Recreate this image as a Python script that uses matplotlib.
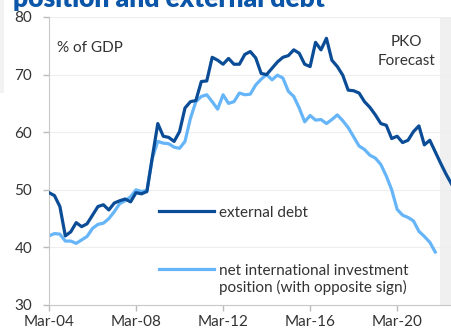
import numpy as np
import pandas as pd
import matplotlib
matplotlib.use('Agg')
import matplotlib.pyplot as plt
from matplotlib.lines import Line2D
from matplotlib.patches import Rectangle

plt.rcParams['font.family'] = ['Lato', 'DejaVu Sans']

# quarterly data, % of GDP, from 2004Q1
quarters = pd.period_range('2004Q1', periods=75, freq='Q')

external_debt = [49.5, 49.0, 47.1, 42.0, 42.7, 44.3, 43.6, 44.1, 45.6, 47.1,
                 47.4, 46.5, 47.7, 48.1, 48.4, 47.9, 49.5, 49.3, 49.7, 55.7,
                 61.5, 59.3, 59.1, 58.4, 60.1, 64.2, 65.3, 65.5, 68.8, 68.9,
                 73.0, 72.5, 71.8, 72.8, 71.8, 71.8, 73.5, 74.0, 72.9, 70.2,
                 70.0, 71.1, 72.2, 73.0, 73.3, 74.3, 73.7, 71.8, 71.4, 75.6,
                 74.3, 76.3, 72.5, 71.4, 69.9, 67.3, 67.2, 66.8, 65.3, 64.3,
                 63.0, 61.5, 61.2, 58.9, 59.3, 58.2, 58.6, 60.1, 61.1, 57.8,
                 58.6, 56.6, 54.6, 52.7, 51.0]

niip = [42.0, 42.4, 42.3, 41.1, 41.1, 40.7, 41.3, 41.9, 43.3, 44.0,
        44.2, 45.0, 46.2, 47.6, 48.1, 48.8, 50.0, 49.7, 49.9, 55.5,
        58.4, 58.1, 58.0, 57.4, 57.2, 58.4, 62.4, 65.3, 66.2, 66.5,
        65.3, 64.0, 66.5, 65.0, 65.3, 66.8, 66.5, 66.6, 68.2, 69.2,
        70.0, 69.1, 69.9, 69.4, 67.1, 66.2, 64.2, 61.8, 62.9, 62.1,
        62.2, 61.5, 62.2, 63.0, 62.0, 60.8, 59.2, 57.6, 57.0, 56.0,
        55.5, 54.4, 52.4, 50.0, 46.6, 45.6, 45.2, 44.6, 42.8, 41.9,
        40.9, 39.2]

forecast_start = pd.Period('2022Q1', freq='Q')

dark = '#0b4c97'
light = '#66b5f8'
grey_txt = '#333333'

x = np.arange(len(quarters))
fc = (forecast_start - quarters[0]).n

fig = plt.figure(figsize=(4.51, 3.31), dpi=100)
# grey strip at the left edge (part of the page behind the chart)
fig.patches.append(Rectangle((0, 1 - 93/331), 4/451, 93/331, transform=fig.transFigure,
                             color='#f2f2f2', lw=0, zorder=0))
ax = fig.add_axes([49/451, 26/331, 1 - 49/451, 288/331])

ax.axvspan(fc - 0.1, 80, color='#f0f0f0', lw=0, zorder=0)
l1, = ax.plot(x, external_debt, color=dark, lw=2.3, zorder=3)
l2, = ax.plot(x[:len(niip)], niip, color=light, lw=2.3, zorder=2)

ax.set_xlim(0, 73.9)
ax.set_ylim(30, 80)
ax.set_yticks([30, 40, 50, 60, 70, 80])
ticks = x[::16]
ax.set_xticks(ticks)
ax.set_xticklabels([quarters[i].end_time.strftime('%b-%y') for i in ticks])
ax.tick_params(labelsize=11, colors='#bbbbbb', labelcolor=grey_txt, length=4, width=1)
ax.tick_params(axis='y', pad=8)
for s in ['top', 'right']:
    ax.spines[s].set_visible(False)
for s in ['left', 'bottom']:
    ax.spines[s].set_color('#c8c8c8')
ax.grid(axis='y', color='#eeeeee', lw=0.8)
ax.set_axisbelow(True)

ax.text(0.02, 0.88, '% of GDP', transform=ax.transAxes, fontsize=11, color=grey_txt)
ax.text(0.89, 0.835, 'PKO\nForecast', transform=ax.transAxes, fontsize=11,
        color=grey_txt, ha='center', multialignment='center', linespacing=1.45)

leg1 = ax.legend([l1], ['external debt'], loc='center left', bbox_to_anchor=(0.24, 0.32),
                 frameon=False, fontsize=11, handlelength=3.6, handletextpad=0.3,
                 labelcolor=grey_txt)
ax.add_artist(leg1)
blank = Line2D([], [], color='none')
ax.legend([l2, blank], ['net international investment', 'position (with opposite sign)'],
          loc='center left', bbox_to_anchor=(0.24, 0.09), frameon=False, fontsize=11,
          handlelength=3.6, handletextpad=0.3, labelspacing=0.12, labelcolor=grey_txt)

fig.text(13/451, 1 - 7/331, 'position and external debt', fontsize=19, fontweight='heavy',
         color='#0b56a8', va='baseline')

fig.savefig('out.png', dpi=100)
